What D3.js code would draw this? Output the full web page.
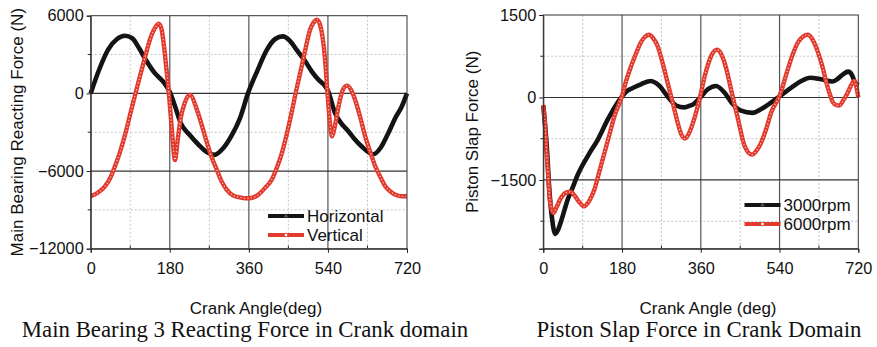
<!DOCTYPE html>
<html>
<head>
<meta charset="utf-8">
<script src="https://cdn.jsdelivr.net/npm/d3@7"></script>
<style>
  body { margin: 0; background: #fff; }
  svg { display: block; }
  .tick text { font-family: "Liberation Sans", Arial, sans-serif; font-size: 16.3px; fill: #111; }
  .axis-title { font-family: "Liberation Sans", Arial, sans-serif; font-size: 17px; fill: #111; }
  .legend text { font-family: "Liberation Sans", Arial, sans-serif; font-size: 17px; fill: #111; }
  .caption { font-family: "Liberation Serif", "Times New Roman", serif; font-size: 22.8px; fill: #111; }
</style>
</head>
<body>
<svg id="chart" width="877" height="347"></svg>
<script>
// ---- data ----
var xTicks = [0, 180, 360, 540, 720];
var xMinor = [90, 270, 450, 630];

// main bearing 3, horizontal
var horizAngle = [0, 20, 40, 60, 78, 95, 110, 127, 145, 165, 180, 192, 205, 225, 245, 265, 282, 300, 320, 340, 358,
  380, 400, 420, 437, 455, 470, 488, 503, 520, 533, 540, 556, 570, 586, 600, 617, 643, 660, 677, 695, 707, 720];
var horizForce = [0, 1900, 3400, 4200, 4450, 4250, 3500, 2500, 1600, 900, 100, -1000, -2300, -3200, -3950, -4550, -4750, -4300, -3300, -1900, 0,
  1800, 3300, 4200, 4400, 4000, 3300, 2500, 1700, 1000, 600, 200, -1500, -2300, -2900, -3500, -4100, -4700, -4200, -3100, -1800, -1100, 0];

// main bearing 3, vertical
var vertAngle = [0, 15, 32, 45, 55, 67, 77, 90, 100, 112, 122, 137, 147, 155, 161, 167, 172, 178, 184, 192, 198, 205, 214, 226, 242, 255, 265, 276, 287, 298, 310, 325, 340, 352,
  365, 381, 397, 412, 423, 435, 446, 457, 468, 480, 490, 499, 507, 515, 522, 528, 533, 538, 544, 549, 556, 564, 573, 583, 593, 602, 614, 625, 637, 648, 660, 671, 683, 694, 708, 720];
var vertForce = [-7950, -7700, -7200, -6500, -5650, -4500, -3340, -1600, -260, 1300, 2570, 4370, 5100, 5380, 5000, 3600, 2000, 0, -2500, -5150, -3600, -1900, -740, -120, -1285, -2700, -3850, -5000, -5900, -6800, -7450, -7900, -8040, -8100,
  -8080, -7840, -7300, -6680, -5800, -4630, -3200, -1540, 250, 2060, 3600, 4880, 5450, 5690, 5300, 4300, 2800, 500, -2100, -3320, -2500, -1030, 200, 600, 250, -510, -1900, -3340, -4600, -5650, -6500, -7200, -7600, -7840, -7950, -7950];

// piston slap, 3000 rpm
var slow3000Angle = [0, 8, 14, 20, 27, 33, 41, 49, 56, 64, 79, 102, 125, 148, 170, 180, 190, 201, 223, 246, 258, 269, 280, 292, 305, 322, 335, 345, 360,
  376, 395, 414, 430, 452, 478, 498, 521, 540, 567, 590, 610, 635, 660, 673, 685, 697, 706, 711, 720];
var slow3000Force = [-150, -900, -1700, -2200, -2480, -2420, -2240, -2030, -1850, -1700, -1400, -1060, -760, -390, -90, 20, 110, 160, 240, 300, 260, 180, 60, -60, -150, -180, -150, -110, 10,
  150, 210, 90, -90, -240, -280, -210, -90, 20, 180, 300, 360, 330, 290, 340, 420, 470, 400, 300, 220];

// piston slap, 6000 rpm
var fast6000Angle = [0, 4, 7, 11, 14, 18, 23, 30, 41, 52, 62, 72, 82, 93, 105, 117, 128, 140, 152, 163, 180, 190, 201, 212, 223, 232, 241, 251, 261, 273, 284, 296, 307, 316, 324, 333, 345, 358,
  369, 384, 397, 406, 414, 422, 429, 445, 460, 477, 488, 498, 510, 521, 540, 559, 570, 582, 594, 605, 617, 628, 638, 647, 655, 662, 670, 677, 685, 696, 704, 711, 716, 720];
var fast6000Force = [-135, -500, -940, -1400, -1790, -2000, -2100, -2000, -1820, -1730, -1715, -1790, -1900, -1980, -1880, -1670, -1350, -1000, -650, -330, 30, 320, 575, 800, 1000, 1100, 1140, 1080, 940, 620, 270, -100, -455, -680, -745, -650, -390, 0,
  390, 760, 870, 800, 640, 400, 150, -390, -880, -1040, -960, -820, -560, -270, 30, 515, 780, 1000, 1110, 1140, 1030, 820, 560, 270, 60, -90, -140, -145, -60, 90, 230, 300, 180, 0];

var svg = d3.select("#chart");
svg.append("rect").attr("width", 877).attr("height", 347).attr("fill", "#fff");

function zip(xs, ys) {
  return xs.map(function(x, i) { return [x, ys[i]]; });
}

function drawPanel(p) {
  var width = p.x1 - p.x0, height = p.y1 - p.y0;

  var x = d3.scaleLinear().domain([0, 720]).range([p.x0, p.x1]);
  var y = d3.scaleLinear().domain(p.yDomain).range([p.y1, p.y0]);

  var g = svg.append("g");

  // dashed minor grid
  g.selectAll(".vminor").data(xMinor).enter().append("line")
    .attr("x1", function(d) { return x(d); }).attr("x2", function(d) { return x(d); })
    .attr("y1", p.y0).attr("y2", p.y1)
    .attr("stroke", "#c4c4c4").attr("stroke-width", 1).attr("stroke-dasharray", "2,2");
  g.selectAll(".hminor").data(p.yMinor).enter().append("line")
    .attr("x1", p.x0).attr("x2", p.x1)
    .attr("y1", function(d) { return y(d); }).attr("y2", function(d) { return y(d); })
    .attr("stroke", "#c4c4c4").attr("stroke-width", 1).attr("stroke-dasharray", "2,2");

  // solid major grid
  g.selectAll(".vmajor").data(xTicks.slice(1, -1)).enter().append("line")
    .attr("x1", function(d) { return x(d); }).attr("x2", function(d) { return x(d); })
    .attr("y1", p.y0).attr("y2", p.y1)
    .attr("stroke", "#555").attr("stroke-width", 1.2);
  g.selectAll(".hmajor").data(p.yTicks.slice(1, -1)).enter().append("line")
    .attr("x1", p.x0).attr("x2", p.x1)
    .attr("y1", function(d) { return y(d); }).attr("y2", function(d) { return y(d); })
    .attr("stroke", "#333").attr("stroke-width", 1.2);

  var line = d3.line()
    .x(function(d) { return x(d[0]); })
    .y(function(d) { return y(d[1]); })
    .curve(d3.curveMonotoneX);

  var plot = g.append("g");
  plot.append("path")
    .datum(zip(p.black[0], p.black[1]))
    .attr("d", line)
    .attr("fill", "none").attr("stroke", "#141414").attr("stroke-width", 4.6)
    .attr("stroke-linejoin", "round");
  plot.append("path")
    .datum(zip(p.red[0], p.red[1]))
    .attr("d", line)
    .attr("fill", "none").attr("stroke", "#e23a2c").attr("stroke-width", 4.4)
    .attr("stroke-linejoin", "round");
  // hollow marker look
  plot.append("path")
    .datum(zip(p.red[0], p.red[1]))
    .attr("d", line)
    .attr("fill", "none").attr("stroke", "#fff").attr("stroke-width", 1.1)
    .attr("stroke-dasharray", "1.1,2.4").attr("opacity", 0.85);

  // axes
  var xAxis = d3.axisBottom(x).tickValues(xTicks).tickSize(4).tickPadding(10).tickFormat(d3.format("d"));
  var ax = g.append("g").attr("transform", "translate(0," + p.y1 + ")").call(xAxis);
  ax.select(".domain").attr("stroke", "#222");
  ax.selectAll(".tick line").attr("stroke", "#222");
  g.selectAll(".xminortick").data(xMinor).enter().append("line")
    .attr("x1", function(d) { return x(d); }).attr("x2", function(d) { return x(d); })
    .attr("y1", p.y1).attr("y2", p.y1 - 3).attr("stroke", "#222");

  var yAxis = d3.axisLeft(y).tickValues(p.yTicks).tickSize(4).tickPadding(3).tickFormat(d3.format("d"));
  var ay = g.append("g").attr("transform", "translate(" + p.x0 + ",0)").call(yAxis);
  ay.select(".domain").attr("stroke", "#222");
  ay.selectAll(".tick line").attr("stroke", "#222");
  g.selectAll(".yminortick").data(p.yMinor).enter().append("line")
    .attr("x1", p.x0).attr("x2", p.x0 - 3)
    .attr("y1", function(d) { return y(d); }).attr("y2", function(d) { return y(d); })
    .attr("stroke", "#222");

  // frame
  g.append("rect")
    .attr("x", p.x0).attr("y", p.y0).attr("width", width).attr("height", height)
    .attr("fill", "none").attr("stroke", "#333").attr("stroke-width", 1);

  // titles
  g.append("text").attr("class", "axis-title")
    .attr("x", p.xTitleX).attr("y", 314).attr("text-anchor", "middle")
    .text(p.xTitle);
  g.append("text").attr("class", "axis-title")
    .attr("transform", "translate(" + p.yTitleX + "," + ((p.y0 + p.y1) / 2) + ") rotate(-90)")
    .attr("text-anchor", "middle")
    .text(p.yTitle);
  g.append("text").attr("class", "caption")
    .attr("x", p.captionX).attr("y", 337).attr("text-anchor", "middle")
    .text(p.caption);

  // legend
  var lg = g.append("g").attr("class", "legend");
  p.legend.forEach(function(item, i) {
    var ly = p.legendY + i * p.legendGap;
    lg.append("line")
      .attr("x1", p.legendX).attr("x2", p.legendX + 36)
      .attr("y1", ly).attr("y2", ly)
      .attr("stroke", item.color).attr("stroke-width", 4);
    if (item.marker === "circle") {
      lg.append("circle").attr("cx", p.legendX + 18).attr("cy", ly).attr("r", 1.8)
        .attr("fill", "#fff").attr("stroke", item.color).attr("stroke-width", 0.8);
    } else {
      lg.append("path").attr("d", d3.symbol(d3.symbolTriangle, 8)())
        .attr("transform", "translate(" + (p.legendX + 18) + "," + ly + ")")
        .attr("fill", "#555");
    }
    lg.append("text").attr("x", p.legendX + 39).attr("y", ly + 6).text(item.name);
  });
}

drawPanel({
  x0: 90.7, x1: 407, y0: 15.7, y1: 248.7,
  yDomain: [-12000, 6000],
  yTicks: [-12000, -6000, 0, 6000],
  yMinor: [-9000, -3000, 3000],
  black: [horizAngle, horizForce],
  red: [vertAngle, vertForce],
  xTitle: "Crank Angle(deg)", xTitleX: 256,
  yTitle: "Main Bearing Reacting Force (N)", yTitleX: 23,
  caption: "Main Bearing 3 Reacting Force in Crank domain", captionX: 245,
  legendX: 268, legendY: 216, legendGap: 19,
  legend: [
    { name: "Horizontal", color: "#141414", marker: "triangle" },
    { name: "Vertical", color: "#e23a2c", marker: "circle" }
  ]
});

drawPanel({
  x0: 543.3, x1: 858.3, y0: 15, y1: 248.7,
  yDomain: [-2750, 1500],
  yTicks: [-2750, -1500, 0, 1500],
  yMinor: [-2250, -750, 750],
  black: [slow3000Angle, slow3000Force],
  red: [fast6000Angle, fast6000Force],
  xTitle: "Crank Angle (deg)", xTitleX: 708,
  yTitle: "Piston Slap Force (N)", yTitleX: 477.5,
  caption: "Piston Slap Force in Crank Domain", captionX: 699,
  legendX: 744.5, legendY: 205, legendGap: 19,
  legend: [
    { name: "3000rpm", color: "#141414", marker: "triangle" },
    { name: "6000rpm", color: "#e23a2c", marker: "circle" }
  ]
});

// the right panel's bottom edge carries no label
d3.selectAll("g.tick").filter(function(d) { return d === -2750; }).select("text").remove();
</script>
</body>
</html>
